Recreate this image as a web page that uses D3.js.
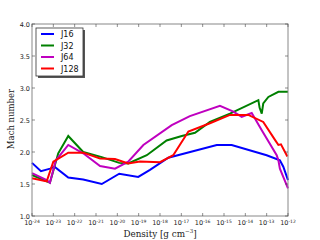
<!DOCTYPE html>
<html><head><meta charset="utf-8">
<script src="https://cdn.jsdelivr.net/npm/d3@7"></script>
<style>body{margin:0;background:#fff}svg{display:block}</style>
</head><body>
<svg id="c" width="320" height="240"></svg>
<script>
const seriesNames = ["J16","J32","J64","J128"];
const colors = ["#0000ff","#008000","#bf00bf","#ff0000"];
// log10(density), Mach
const j16 = [[-24,1.83],[-23.58,1.70],[-23.15,1.74],[-22.95,1.77],[-22.30,1.60],[-21.60,1.57],[-20.73,1.50],[-19.91,1.66],[-19.02,1.61],[-18.47,1.72],[-17.61,1.91],[-15.34,2.11],[-14.64,2.11],[-13.0,1.95],[-12.38,1.87],[-12.22,1.77],[-12.0,1.56]];
const j32 = [[-24,1.64],[-23.31,1.54],[-23.16,1.52],[-22.77,1.98],[-22.30,2.25],[-21.60,2.00],[-20.73,1.92],[-19.91,1.83],[-19.49,1.82],[-18.62,1.95],[-17.69,2.18],[-16.98,2.25],[-16.36,2.30],[-15.66,2.47],[-14.72,2.60],[-13.39,2.81],[-13.33,2.69],[-13.23,2.60],[-13.16,2.76],[-12.92,2.86],[-12.45,2.94],[-12.0,2.94]];
const j64 = [[-24,1.67],[-23.31,1.56],[-23.16,1.52],[-22.88,1.87],[-22.30,2.11],[-21.60,1.98],[-20.81,1.78],[-20.11,1.74],[-19.49,1.85],[-18.78,2.11],[-17.45,2.42],[-16.6,2.56],[-15.19,2.72],[-14.56,2.63],[-14.17,2.55],[-13.70,2.61],[-13.23,2.34],[-12.53,1.95],[-12.45,1.87],[-12.38,1.74],[-12.0,1.43]];
const j128 = [[-24,1.59],[-23.31,1.54],[-23.0,1.85],[-22.3,1.99],[-21.6,1.99],[-20.81,1.90],[-20.11,1.89],[-19.49,1.82],[-18.94,1.85],[-18.0,1.84],[-17.38,1.95],[-16.67,2.32],[-15.66,2.45],[-14.72,2.58],[-13.86,2.58],[-13.16,2.47],[-12.61,2.19],[-12.45,2.11],[-12.33,2.12],[-12.03,1.93]];
const seriesData = [j16,j32,j64,j128];
const xTicks = d3.range(-24,-11,1);
const yTicks = [1.0,1.5,2.0,2.5,3.0,3.5,4.0];

const svg = d3.select("#c");
const L=32,R=288,T=24,B=216;
const x = d3.scaleLinear().domain([-24,-12]).range([L,R]);
const y = d3.scaleLinear().domain([1,4]).range([B,T]);

const g = svg.append("g");
const line = d3.line().x(d=>x(d[0])).y(d=>y(d[1]));
seriesData.forEach((s,i)=>{
  g.append("path").attr("d",line(s)).attr("fill","none").attr("stroke",colors[i]).attr("stroke-width",2).attr("stroke-linejoin","miter");
});
// frame
svg.append("rect").attr("x",L).attr("y",T).attr("width",R-L).attr("height",B-T).attr("fill","none").attr("stroke","#888").attr("stroke-width",1);
// ticks
const tk = svg.append("g").attr("stroke","#444").attr("stroke-width",0.6);
xTicks.forEach(t=>{
  tk.append("line").attr("x1",x(t)).attr("x2",x(t)).attr("y1",B).attr("y2",B-3);
  tk.append("line").attr("x1",x(t)).attr("x2",x(t)).attr("y1",T).attr("y2",T+3);
});
yTicks.forEach(t=>{
  tk.append("line").attr("x1",L).attr("x2",L+3).attr("y1",y(t)).attr("y2",y(t));
  tk.append("line").attr("x1",R).attr("x2",R-3).attr("y1",y(t)).attr("y2",y(t));
});
// tick labels
const font="DejaVu Sans";
yTicks.forEach(t=>{
  svg.append("text").attr("x",L-2).attr("y",y(t)+2.5).attr("text-anchor","end").attr("font-family",font).attr("font-size",6.5).attr("fill","#222").text(t.toFixed(1));
});
xTicks.forEach(t=>{
  const tx = svg.append("text").attr("x",x(t)).attr("y",B+9).attr("text-anchor","middle").attr("font-family",font).attr("font-size",6.5).attr("fill","#222");
  tx.append("tspan").text("10");
  tx.append("tspan").attr("dy",-2.5).attr("font-size",4.5).text(t);
});
// axis labels
const xl = svg.append("text").attr("x",(L+R)/2).attr("y",236.5).attr("text-anchor","middle").attr("font-family","DejaVu Serif").attr("font-size",8.8).attr("fill","#222");
xl.append("tspan").text("Density [g cm");
xl.append("tspan").attr("dy",-3.5).attr("font-size",5.5).text("−3");
xl.append("tspan").attr("dy",3.5).text("]");
svg.append("text").attr("transform",`translate(14,${(T+B)/2-1}) rotate(-90)`).attr("text-anchor","middle").attr("font-family","DejaVu Serif").attr("font-size",8.5).attr("fill","#222").text("Mach number");
// legend
const lg = svg.append("g");
lg.append("rect").attr("x",38).attr("y",30).attr("width",47).attr("height",48).attr("fill","#555");
lg.append("rect").attr("x",36).attr("y",28).attr("width",47).attr("height",48).attr("fill","#fff").attr("stroke","#333").attr("stroke-width",0.8);
seriesNames.forEach((n,i)=>{
  const yy = 34 + i*11.5;
  lg.append("line").attr("x1",41).attr("x2",54).attr("y1",yy).attr("y2",yy).attr("stroke",colors[i]).attr("stroke-width",2);
  lg.append("text").attr("x",61).attr("y",yy+3).attr("font-family",font).attr("font-size",8).attr("fill","#111").text(n);
});
</script>
</body></html>
